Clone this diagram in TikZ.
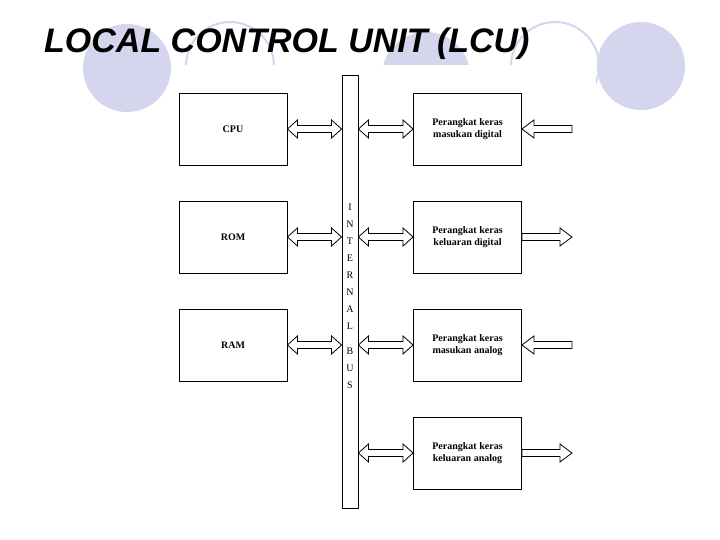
\documentclass[tikz,border=0pt]{standalone}
\usepackage{fontspec}
\setmainfont{Liberation Serif}
\newfontfamily\titlefont{Liberation Sans}
\usetikzlibrary{calc}
\definecolor{lav}{RGB}{213,213,238}
\tikzset{
 box/.style={draw,line width=0.9pt,minimum width=108pt,minimum height=72pt,inner sep=0pt,font=\fontsize{10}{12}\selectfont\bfseries,align=center},
 arr/.style={draw,line width=0.8pt,fill=white},
 bg/.style={fill=lav},
 bgo/.style={draw=lav,line width=2pt}
}
\newcommand\dblarr[2]{\path[arr] let \p1=(#1), \p2=(#2) in
 (\x1,\y1) -- (\x1+10pt,\y1+9pt) -- (\x1+10pt,\y1+3.5pt) -- (\x2-10pt,\y1+3.5pt) -- (\x2-10pt,\y1+9pt) -- (\x2,\y1)
 -- (\x2-10pt,\y1-9pt) -- (\x2-10pt,\y1-3.5pt) -- (\x1+10pt,\y1-3.5pt) -- (\x1+10pt,\y1-9pt) -- cycle;}
\newcommand\sglarr[3]{\path[arr] let \p1=(#1), \p2=(#2) in
 (\x1,\y1+3.5pt) -- (\x2-#3,\y1+3.5pt) -- (\x2-#3,\y1+9pt) -- (\x2,\y1) -- (\x2-#3,\y1-9pt) -- (\x2-#3,\y1-3.5pt) -- (\x1,\y1-3.5pt) -- cycle;}
\begin{document}
\begin{tikzpicture}[x=1pt,y=-1pt]
\useasboundingbox (0,0) rectangle (720,540);
\fill[white] (0,0) rectangle (720,540);
\fill[bg] (127,68) circle (44);
\fill[bg] (641,66) circle (44);
\draw[bgo] (230,66) circle (44);
\fill[bg] (426,76) circle (44);
\draw[bgo] (555,66) circle (44);
\fill[white] (176,65) rectangle (596,540);
\node[font=\titlefont\itshape\bfseries\fontsize{34}{38}\selectfont,anchor=west,inner sep=0pt] (title) at (44,44) {LOCAL CONTROL UNIT (LCU)};
\node[draw,line width=0.9pt,minimum width=16pt,minimum height=433pt,inner sep=0pt] (bus) at (350,291.5) {};
\node[box] (cpu) at (233,129) {CPU};
\node[box] (rom) at (233,237) {ROM};
\node[box] (ram) at (233,345) {RAM};
\node[box] (p1) at (467.5,129) {Perangkat keras\\masukan digital};
\node[box] (p2) at (467.5,237) {Perangkat keras\\keluaran digital};
\node[box] (p3) at (467.5,345) {Perangkat keras\\masukan analog};
\node[box] (p4) at (467.5,453) {Perangkat keras\\keluaran analog};
\foreach \nm in {cpu,rom,ram}{\dblarr{\nm.east}{bus.west |- \nm.east}}
\foreach \nm in {p1,p2,p3,p4}{\dblarr{bus.east |- \nm.west}{\nm.west}}
\coordinate (e1) at ($(p1.east)+(50,0)$);
\coordinate (e2) at ($(p2.east)+(50,0)$);
\coordinate (e3) at ($(p3.east)+(50,0)$);
\coordinate (e4) at ($(p4.east)+(50,0)$);
\sglarr{e1}{p1.east}{-12pt}
\sglarr{p2.east}{e2}{12pt}
\sglarr{e3}{p3.east}{-12pt}
\sglarr{p4.east}{e4}{12pt}
\node[font=\fontsize{10}{17}\selectfont,align=center,anchor=north,inner sep=0pt] (lbl) at (350,204) {I\\N\\T\\E\\R\\N\\A\\L\\[8pt]B\\U\\S};
\end{tikzpicture}
\end{document}
